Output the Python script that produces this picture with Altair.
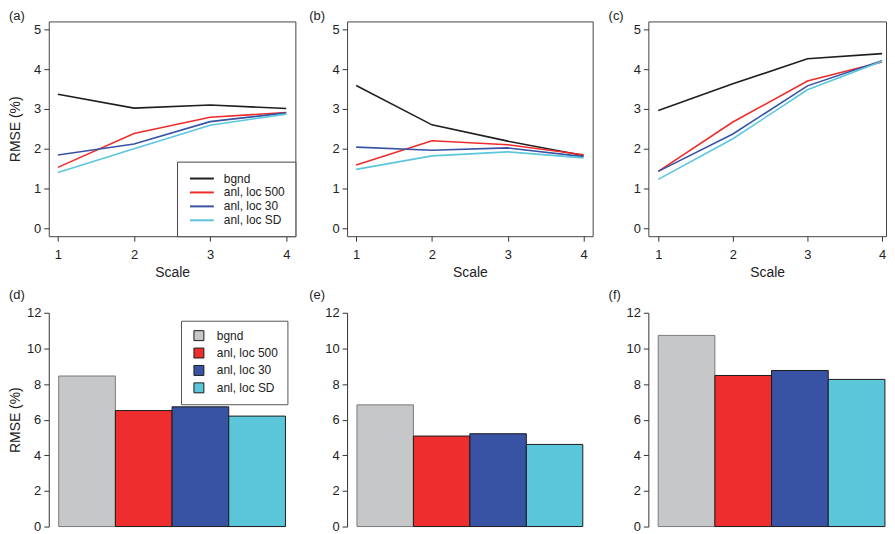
import altair as alt
import pandas as pd

FONT = "Liberation Sans"

scales = [1, 2, 3, 4]
series = ["bgnd", "anl, loc 500", "anl, loc 30", "anl, loc SD"]
line_colors = ["#1f1f1f", "#ee2c2c", "#3953a4", "#5bc6dc"]
bar_colors = ["#c6c7c9", "#ee2e2e", "#3953a4", "#5bc6da"]

# panel (a)
a_bgnd = [3.37, 3.02, 3.10, 3.01]
a_loc500 = [1.53, 2.38, 2.79, 2.91]
a_loc30 = [1.84, 2.12, 2.68, 2.90]
a_locSD = [1.40, 2.00, 2.59, 2.87]
# panel (b)
b_bgnd = [3.59, 2.60, 2.19, 1.83]
b_loc500 = [1.59, 2.20, 2.10, 1.85]
b_loc30 = [2.04, 1.96, 2.02, 1.80]
b_locSD = [1.48, 1.82, 1.92, 1.77]
# panel (c)
c_bgnd = [2.96, 3.63, 4.26, 4.39]
c_loc500 = [1.43, 2.67, 3.70, 4.18]
c_loc30 = [1.43, 2.37, 3.58, 4.21]
c_locSD = [1.23, 2.25, 3.48, 4.20]
# bar panels
d_bars = [8.45, 6.51, 6.72, 6.20]
e_bars = [6.83, 5.08, 5.21, 4.61]
f_bars = [10.73, 8.48, 8.76, 8.26]

AX = "#333333"
TX = "#222222"


def line_df(groups):
    rows = []
    for name, vals in zip(series, groups):
        for s, v in zip(scales, vals):
            rows.append({"series": name, "scale": s, "rmse": v})
    return pd.DataFrame(rows)


def panel_title(text, dx, offset):
    return alt.TitleParams(text, anchor="start", frame="group", dx=dx, offset=offset,
                           font=FONT, fontSize=13, fontWeight="normal", color=TX)


def y_axis(values, extent, ytitle, tpad, domain):
    kw = dict(values=values, domain=domain, domainColor=AX, grid=False, tickSize=5,
              tickColor=AX, labelPadding=3, labelFont=FONT, labelFontSize=13,
              labelColor=TX, minExtent=extent, maxExtent=extent)
    if ytitle:
        kw.update(title=ytitle, titleFont=FONT, titleFontSize=14,
                  titleFontWeight="normal", titleColor=TX, titlePadding=tpad)
    else:
        kw.update(title=None, titlePadding=0)
    return alt.Axis(**kw)


def line_panel(groups, label, dx, legend, ytitle, extent, tpad, width, xdomain):
    df = line_df(groups)
    if legend:
        leg = alt.Legend(
            orient="bottom-right", offset=0, title=None, padding=10,
            strokeColor="#444444", fillColor="white",
            symbolType="M-2,0H2", symbolSize=144, symbolStrokeWidth=2,
            symbolOffset=8, labelOffset=15, rowPadding=1,
            labelFont=FONT, labelFontSize=12, labelColor=TX)
    else:
        leg = None
    return alt.Chart(df).mark_line(strokeWidth=1.6).encode(
        x=alt.X("scale:Q",
                scale=alt.Scale(domain=xdomain, nice=False, zero=False),
                axis=alt.Axis(values=scales, format="d", title="Scale", domain=False,
                              grid=False, tickSize=5, tickColor=AX, labelPadding=7,
                              labelFont=FONT, labelFontSize=13, labelColor=TX,
                              labelFlush=False,
                              titleFont=FONT, titleFontSize=14, titleFontWeight="normal",
                              titleColor=TX, titlePadding=5)),
        y=alt.Y("rmse:Q", scale=alt.Scale(domain=[-0.2, 5.2], nice=False, zero=False),
                axis=y_axis([0, 1, 2, 3, 4, 5], extent, ytitle, tpad, False)),
        color=alt.Color("series:N", sort=series,
                        scale=alt.Scale(domain=series, range=line_colors), legend=leg),
    ).properties(width=width, height=216, title=panel_title(label, dx, -2),
                 view=alt.ViewBackground(stroke="#444444", strokeWidth=1))


def bar_panel(vals, label, dx, legend, ytitle, extent, tpad, width, pad_outer, align):
    df = pd.DataFrame({"series": series, "rmse": vals})
    if legend:
        leg = alt.Legend(
            orient="top-right", offset=8, title=None, padding=9,
            strokeColor="#555555", fillColor="white",
            symbolType="square", symbolSize=100, symbolStrokeColor="#1a1a1a",
            symbolStrokeWidth=1, symbolOffset=3, labelOffset=12, rowPadding=3.5,
            labelFont=FONT, labelFontSize=12, labelColor=TX)
    else:
        leg = None
    return alt.Chart(df).mark_bar(strokeWidth=1).encode(
        x=alt.X("series:N", sort=series, axis=None,
                scale=alt.Scale(paddingInner=0, paddingOuter=pad_outer, align=align)),
        y=alt.Y("rmse:Q", scale=alt.Scale(domain=[0, 12], nice=False),
                axis=y_axis([0, 2, 4, 6, 8, 10, 12], extent, ytitle, tpad, True)),
        fill=alt.Fill("series:N", sort=series,
                      scale=alt.Scale(domain=series, range=bar_colors), legend=leg),
        stroke=alt.condition(alt.datum.series == "bgnd",
                             alt.value("#7a7a7a"), alt.value("#1a1a1a")),
    ).properties(width=width, height=215, title=panel_title(label, dx, 5),
                 view=alt.ViewBackground(stroke="transparent"))


top = alt.hconcat(
    line_panel([a_bgnd, a_loc500, a_loc30, a_locSD], "(a)", -40, True, "RMSE (%)", 18, 8,
               248, [0.88, 4.12]),
    line_panel([b_bgnd, b_loc500, b_loc30, b_locSD], "(b)", -38, False, None, 50, 0,
               247, [0.88, 4.12]),
    line_panel([c_bgnd, c_loc500, c_loc30, c_locSD], "(c)", -40, False, None, 54, 0,
               239, [0.867, 4.053]),
    spacing=0,
).resolve_scale(color="independent").resolve_legend(color="independent")

bottom = alt.hconcat(
    bar_panel(d_bars, "(d)", -40, True, "RMSE (%)", 23, 3, 248, 0.175, 0.5),
    bar_panel(e_bars, "(e)", -38, False, None, 50, 0, 247, 0.175, 0.5),
    bar_panel(f_bars, "(f)", -40, False, None, 54, 0, 239, 0.0965, 0.9),
    spacing=0,
).resolve_scale(fill="independent").resolve_legend(fill="independent")

chart = alt.vconcat(top, bottom, spacing=7).properties(
    padding=0, background="white"
)

chart.save("out.html", embed_options={"renderer": "svg", "actions": False})
